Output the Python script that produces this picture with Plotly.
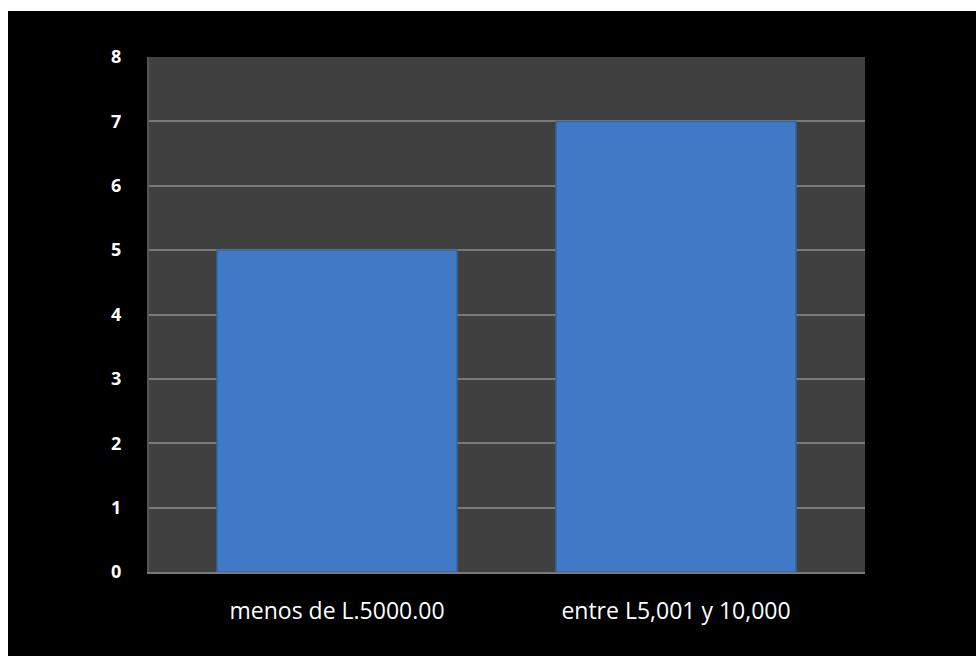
import plotly.graph_objects as go

categories = ["menos de L.5000.00", "entre L5,001 y 10,000"]
values = [5, 7]
y_ticks = [0, 1, 2, 3, 4, 5, 6, 7, 8]

W, H = 976, 656
ML, MR, MT, MB = 149, 111, 57, 84
pw, ph = W - ML - MR, H - MT - MB


def px_to_paper_x(px):
    return (px - ML) / pw


def px_to_paper_y(py):
    return (H - MB - py) / ph


fig = go.Figure(
    go.Bar(
        x=[0, 1],
        y=values,
        width=0.708,
        marker=dict(color="#4079c5", line=dict(color="#35649f", width=1.5)),
        hovertext=categories,
        hoverinfo="text+y",
    )
)

shapes = [
    # black backdrop of the chart, framed by a thin white edge at top/left
    dict(type="rect", xref="paper", yref="paper", layer="below",
         x0=px_to_paper_x(8), x1=px_to_paper_x(W + 5),
         y0=px_to_paper_y(H + 5), y1=px_to_paper_y(11),
         fillcolor="black", line=dict(width=0)),
    # dark gray plotting area
    dict(type="rect", xref="paper", yref="paper", layer="below",
         x0=0, x1=1, y0=0, y1=1,
         fillcolor="#404040", line=dict(width=0)),
]

fig.update_layout(
    width=W,
    height=H,
    margin=dict(l=ML, r=MR, t=MT, b=MB, pad=0),
    paper_bgcolor="white",
    plot_bgcolor="rgba(0,0,0,0)",
    showlegend=False,
    shapes=shapes,
    xaxis=dict(
        range=[-0.5546, 1.5575],
        tickvals=[0, 1],
        ticktext=categories,
        showgrid=False,
        zeroline=False,
        showline=True,
        linecolor="#7a7a7a",
        linewidth=2,
        ticks="",
        tickfont=dict(family="Open Sans", size=23, color="white", weight=400),
        ticklabelstandoff=17,
        fixedrange=True,
    ),
    yaxis=dict(
        range=[0, 8],
        tickvals=y_ticks,
        ticktext=[str(v) for v in y_ticks],
        showgrid=True,
        gridcolor="#7a7a7a",
        gridwidth=2,
        zeroline=False,
        showline=True,
        linecolor="#555555",
        linewidth=2,
        ticks="",
        tickfont=dict(family="Open Sans", size=18, color="white", weight="bold"),
        ticklabelstandoff=22,
        fixedrange=True,
    ),
)

fig.write_html("out.html")
